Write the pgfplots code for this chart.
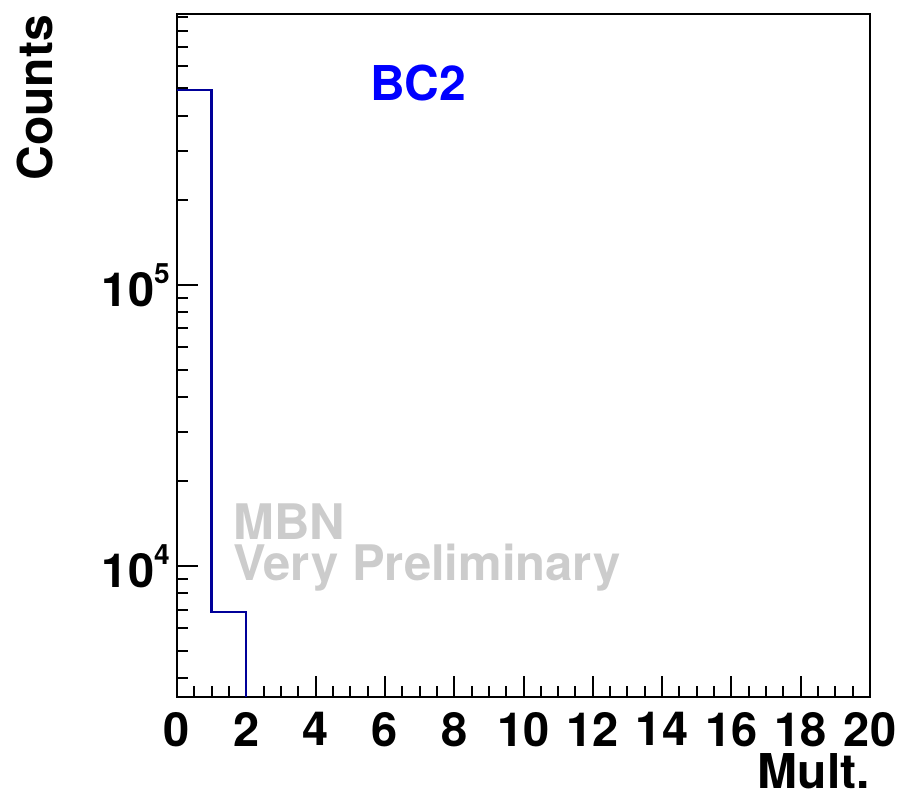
\documentclass[border=0pt]{standalone}
\usepackage{fontspec}
\setmainfont{TeX Gyre Heros}
\usepackage{pgfplots}
\pgfplotsset{compat=1.18}
\definecolor{histc}{RGB}{0,0,153}
\definecolor{bcblue}{RGB}{0,0,255}
\definecolor{prelim}{RGB}{204,204,204}
\newcommand{\bigfont}[1]{\bfseries\fontsize{#1}{#1}\selectfont}
\begin{document}
\begin{tikzpicture}
\begin{axis}[
    name=ax,
    scale only axis,
    width=693bp, height=683bp,
    ymode=log,
    xmin=0, xmax=20,
    ymin=3420, ymax=920000,
    axis line style={line width=2.8bp},
    every tick/.style={black, line width=2bp},
    tick align=inside,
    xtick pos=bottom, ytick pos=left,
    major tick length=21bp, minor tick length=10.5bp,
    xtick={0,2,...,20},
    minor x tick num=3,
    ytick={1e4,1e5},
    yticklabels={10\raisebox{23bp}{\fontsize{28bp}{28bp}\selectfont 4},
                 10\raisebox{23bp}{\fontsize{28bp}{28bp}\selectfont 5}},
    minor ytick={4000,5000,6000,7000,8000,9000,
                 20000,30000,40000,50000,60000,70000,80000,90000,
                 200000,300000,400000,500000,600000,700000,800000,900000},
    /pgf/number format/assume math mode=true,
    tick label style={font=\bigfont{47bp}, inner sep=0pt},
    xticklabel shift=15bp,
    yticklabel shift=7bp,
]
\addplot[const plot, histc, line width=2.3bp] coordinates {
  (0,494000) (1,6877) (2,1) (3,1) (4,1) (5,1) (6,1) (7,1) (8,1) (9,1)
  (10,1) (11,1) (12,1) (13,1) (14,1) (15,1) (16,1) (17,1) (18,1) (19,1) (20,1)
};
\node[anchor=base west, inner sep=0pt, text=bcblue, font=\bigfont{48bp}]
  at (rel axis cs:0.2785,0.8726) {BC2};
\node[anchor=base west, inner sep=0pt, text=prelim, font=\bigfont{49bp}]
  at (rel axis cs:0.0808,0.2299) {MBN};
\node[anchor=base west, inner sep=0pt, text=prelim, font=\bigfont{49bp}]
  at (rel axis cs:0.0808,0.171) {Very Preliminary};
\end{axis}
\node[anchor=base east, rotate=90, inner sep=0pt, font=\bigfont{48bp}]
  at ([shift={(-124bp,-1bp)}]ax.north west) {Counts};
\node[anchor=base east, inner sep=0pt, font=\bigfont{48bp}]
  at ([shift={(0bp,-92bp)}]ax.south east) {Mult.};
\pgfresetboundingbox
\path[use as bounding box] ([shift={(-177bp,-99bp)}]ax.south west)
  rectangle ([shift={(31bp,14bp)}]ax.north east);
\end{tikzpicture}
\end{document}
